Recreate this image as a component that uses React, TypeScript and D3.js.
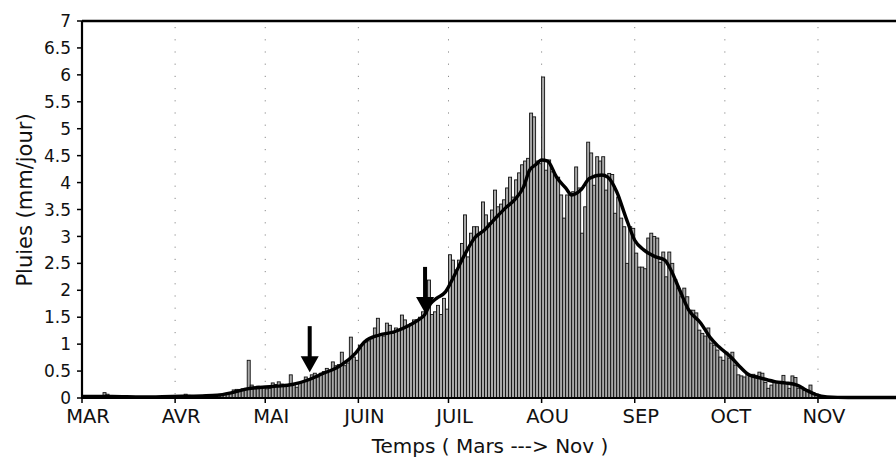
import React from 'react';
import * as d3 from 'd3';

// ---- Data ----
const monthLabels = ['MAR', 'AVR', 'MAI', 'JUIN', 'JUIL', 'AOU', 'SEP', 'OCT', 'NOV'];
const monthStartDays = [0, 31, 61, 92, 122, 153, 184, 214, 245];
const yTickValues = [0, 0.5, 1, 1.5, 2, 2.5, 3, 3.5, 4, 4.5, 5, 5.5, 6, 6.5, 7];
const yTickLabels = ['0', '0.5', '1', '1.5', '2', '2.5', '3', '3.5', '4', '4.5', '5', '5.5', '6', '6.5', '7'];

const marValues = [0.03,0.03,0.02,0.03,0.02,0.03,0.04,0.1,0.07,0.04,0.04,0.03,0.03,0.02,0.02,0.02,0.01,0.01,0.02,0.01,0.01,0.02,0.02,0.02,0.01,0.02,0.02,0.02,0.03,0.02,0.03];
const avrValues = [0.03,0.04,0.04,0.07,0.05,0.04,0.04,0.03,0.04,0.04,0.05,0.05,0.04,0.05,0.06,0.05,0.07,0.08,0.1,0.15,0.16,0.15,0.17,0.18,0.7,0.24,0.2,0.22,0.2,0.2];
const maiValues = [0.17,0.18,0.28,0.25,0.3,0.26,0.22,0.24,0.43,0.25,0.2,0.28,0.3,0.39,0.35,0.43,0.46,0.39,0.46,0.49,0.55,0.5,0.67,0.6,0.62,0.85,0.6,0.65,1.13,0.76,0.7];
const juinValues = [0.98,1.0,1.04,1.06,1.1,1.3,1.48,1.2,1.15,1.39,1.35,1.2,1.3,1.25,1.54,1.45,1.35,1.38,1.45,1.45,1.5,1.6,1.6,2.19,1.55,1.6,1.72,1.55,1.85,1.65];
const juilValues = [2.66,2.56,2.38,2.56,2.87,3.4,2.62,3.06,3.18,3.18,3.06,3.64,3.4,3.25,3.49,3.86,3.55,3.6,3.68,3.9,4.1,3.73,4.05,4.18,4.33,4.4,4.45,5.29,5.22,4.4,4.35];
const aouValues = [5.96,4.23,4.42,4.2,4.14,4.1,3.77,3.34,3.77,3.77,3.83,4.29,3.9,3.06,3.55,4.75,4.55,3.95,4.48,4.4,4.48,3.86,4.17,4.15,3.43,3.73,3.34,3.18,2.5,3.18,3.15];
const sepValues = [2.69,2.43,2.43,2.4,2.97,3.06,3.0,2.97,2.52,2.71,2.25,2.71,2.5,2.2,2.04,1.88,2.04,1.88,1.63,1.63,1.58,1.26,1.2,1.15,1.3,1.02,0.98,0.89,0.76,0.7];
const octValues = [0.85,0.74,0.85,0.61,0.43,0.41,0.39,0.46,0.4,0.44,0.42,0.48,0.46,0.29,0.18,0.24,0.3,0.28,0.3,0.42,0.28,0.18,0.41,0.38,0.18,0.2,0.14,0.13,0.24,0.1,0.06];
const novValues = [0.03,0.02,0.02,0.02,0.01,0.01,0.01,0.01,0.01,0.01,0.01,0.01,0.01,0.01,0.02,0.01,0.01,0.01,0.01,0.01,0.01,0.01,0.01,0.01,0.01,0.01,0.01,0.01,0.01,0.01];

const smoothDays = [0,10,20,30,40,45,50,55,60,65,70,75,80,86,91,94,99,104,109,112,114,116,118,121,124,127,131,134,138,141,144,147,149,151,153,155,158,161,163,166,169,173,175,178,181,184,187,191,194,196,199,202,206,209,212,216,219,222,226,231,234,238,241,244,248,255,275];
const smoothValues = [0.03,0.03,0.02,0.03,0.04,0.05,0.1,0.17,0.2,0.22,0.25,0.33,0.45,0.6,0.83,1.04,1.17,1.23,1.35,1.45,1.54,1.75,1.85,1.97,2.28,2.62,2.99,3.12,3.36,3.53,3.68,3.92,4.23,4.33,4.42,4.4,4.1,3.9,3.77,3.86,4.08,4.14,4.1,3.83,3.36,2.93,2.75,2.62,2.56,2.38,2.0,1.63,1.39,1.13,0.95,0.76,0.58,0.43,0.37,0.3,0.28,0.24,0.15,0.07,0.02,0.01,0.01];

const arrowDays = [75.8, 114.2];
const arrowTipValues = [0.48, 1.58];

const xTitle = 'Temps ( Mars ---> Nov )';
const yTitle = 'Pluies (mm/jour)';

// ---- Layout ----
const W = 896;
const H = 461;
const LEFT = 82;
const TOP = 21;
const BOTTOM = 398;
const FONT = '"DejaVu Sans", sans-serif';

export default function App() {
  const daily = [
    ...marValues, ...avrValues, ...maiValues, ...juinValues, ...juilValues,
    ...aouValues, ...sepValues, ...octValues, ...novValues,
  ];
  const x = d3.scaleLinear().domain([0, 275]).range([LEFT, LEFT + 275 * 3.004]);
  const y = d3.scaleLinear().domain([0, 7]).range([BOTTOM, TOP]);

  const line = d3
    .line<number>()
    .x((_, i) => x(smoothDays[i]))
    .y((d) => y(d))
    .curve(d3.curveMonotoneX);

  return (
    <div style={{ position: 'absolute', left: 0, top: 0 }}>
      <svg width={W} height={H} style={{ display: 'block', background: '#fff' }}>
        <rect x={0} y={0} width={W} height={H} fill="#fff" />
        {/* grid */}
        {monthStartDays.slice(1).map((d, i) => (
          <line
            key={'g' + i}
            x1={x(d)}
            x2={x(d)}
            y1={TOP + 6}
            y2={BOTTOM}
            stroke="#8a8a8a"
            strokeWidth={1}
            strokeDasharray="1.2,11"
          />
        ))}
        {/* bars */}
        {daily.map((v, i) => (
          <rect
            key={'b' + i}
            x={x(i)}
            y={y(v)}
            width={x(i + 1) - x(i)}
            height={y(0) - y(v)}
            fill="#a9a9a9"
            stroke="#111"
            strokeWidth={0.9}
          />
        ))}
        {/* smoothed line */}
        <path d={line(smoothValues) || ''} fill="none" stroke="#000" strokeWidth={3.4} strokeLinejoin="round" />
        {/* arrows */}
        {arrowDays.map((d, i) => {
          const ax = x(d);
          const tip = y(arrowTipValues[i]);
          const headH = 16;
          const headW = 18;
          const shaftL = 30;
          return (
            <g key={'a' + i}>
              <rect x={ax - 2} y={tip - headH - shaftL} width={4} height={shaftL + 2} fill="#000" />
              <polygon
                points={`${ax - headW / 2},${tip - headH} ${ax + headW / 2},${tip - headH} ${ax},${tip}`}
                fill="#000"
              />
            </g>
          );
        })}
        {/* axes frame */}
        <line x1={LEFT} x2={W + 20} y1={TOP} y2={TOP} stroke="#000" strokeWidth={2.5} />
        <line x1={LEFT} x2={W + 20} y1={BOTTOM} y2={BOTTOM} stroke="#000" strokeWidth={2.2} />
        <line x1={LEFT} x2={LEFT} y1={TOP} y2={BOTTOM + 1} stroke="#000" strokeWidth={2.2} />
        {/* y ticks */}
        {yTickValues.map((v, i) => (
          <g key={'yt' + i}>
            <line x1={LEFT - 5} x2={LEFT} y1={y(v)} y2={y(v)} stroke="#000" strokeWidth={1.5} />
            <text
              x={71}
              y={y(v)}
              dy="0.36em"
              textAnchor="end"
              fontFamily={FONT}
              fontSize={17}
              fill="#111"
            >
              {yTickLabels[i]}
            </text>
          </g>
        ))}
        {/* x ticks */}
        {monthStartDays.map((d, i) => (
          <g key={'xt' + i}>
            <line x1={x(d)} x2={x(d)} y1={BOTTOM} y2={BOTTOM + 5} stroke="#000" strokeWidth={1.5} />
            <text
              x={x(d) + 6}
              y={423}
              textAnchor="middle"
              fontFamily={FONT}
              fontSize={19.5}
              fill="#111"
            >
              {monthLabels[i]}
            </text>
          </g>
        ))}
        {/* titles */}
        <text x={490} y={453} textAnchor="middle" fontFamily={FONT} fontSize={20} fill="#111">
          {xTitle}
        </text>
        <text
          transform={`translate(32,200) rotate(-90)`}
          textAnchor="middle"
          fontFamily={FONT}
          fontSize={21}
          fill="#111"
        >
          {yTitle}
        </text>
      </svg>
    </div>
  );
}
